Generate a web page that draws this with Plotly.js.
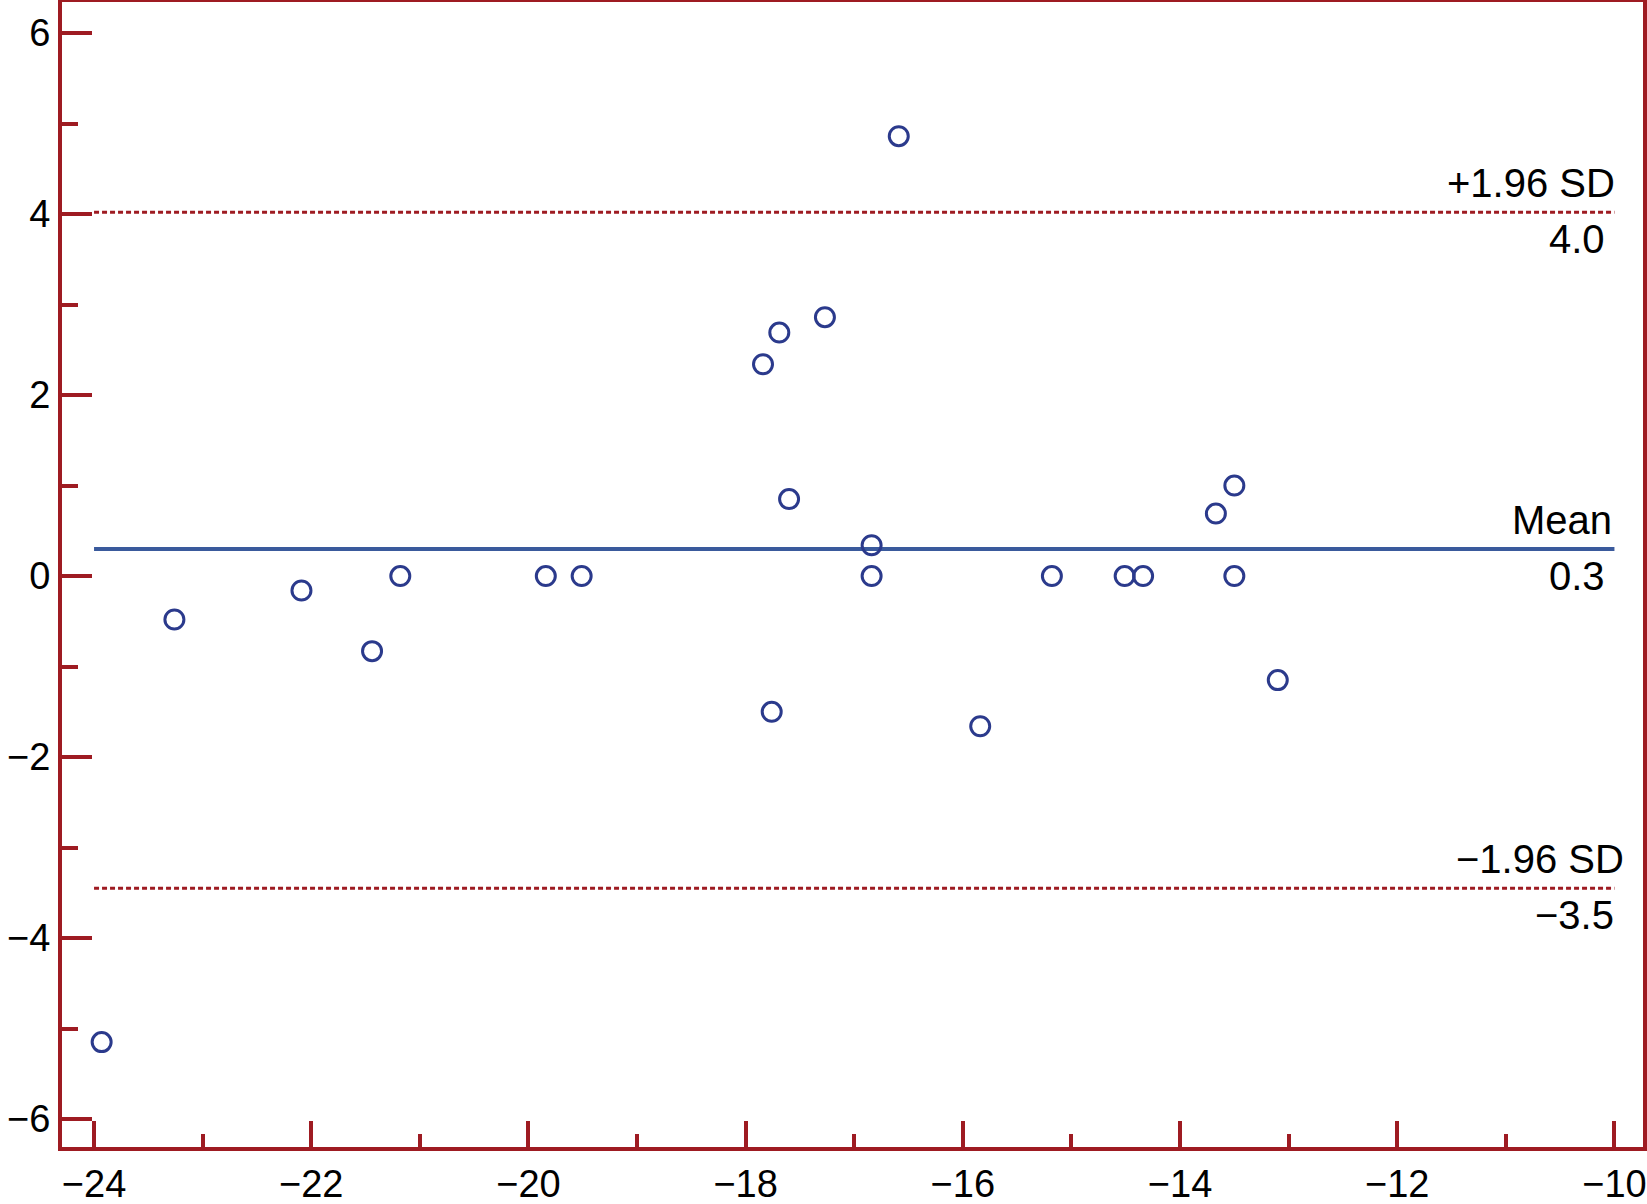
<!DOCTYPE html>
<html>
<head>
<meta charset="utf-8">
<script src="https://cdn.plot.ly/plotly-3.0.1.min.js"></script>
<style>
  html, body { margin: 0; padding: 0; background: #fff; }
  #chart { width: 1647px; height: 1204px; }
</style>
</head>
<body>
<div id="chart"></div>
<script>
// Bland-Altman style plot: mean of two measures vs difference

var meanVals = [-23.93, -23.26, -22.09, -21.44, -21.18, -19.84, -19.51,
                -17.84, -17.69, -17.27, -17.60, -17.76, -16.59, -16.84,
                -16.84, -15.84, -15.18, -14.51, -14.34, -13.67, -13.50,
                -13.50, -13.10];
var diffVals = [-5.15, -0.48, -0.16, -0.83, 0.0, 0.0, 0.0,
                2.34, 2.69, 2.86, 0.85, -1.50, 4.86, 0.34,
                0.0, -1.66, 0.0, 0.0, 0.0, 0.69, 1.0,
                0.0, -1.15];

var lineX = [-24, -10];          // reference lines span
var meanDiff = 0.3;
var upperLoA = 4.02;
var lowerLoA = -3.45;

var refNames = ['+1.96 SD', 'Mean', '\u22121.96 SD'];
var refLabels = ['4.0', '0.3', '\u22123.5'];

var red = '#9e1b22';
var blue = '#3a5a9c';
var dotBlue = '#2b3a8c';
var font = 'Liberation Sans, Arial, Helvetica, sans-serif';
var tickSize = 38;
var noteSize = 40;

var data = [
  {
    x: lineX, y: [upperLoA, upperLoA],
    mode: 'lines', type: 'scatter', hoverinfo: 'skip',
    line: {color: red, width: 3, dash: '5px,3px'}
  },
  {
    x: lineX, y: [lowerLoA, lowerLoA],
    mode: 'lines', type: 'scatter', hoverinfo: 'skip',
    line: {color: red, width: 3, dash: '5px,3px'}
  },
  {
    x: lineX, y: [meanDiff, meanDiff],
    mode: 'lines', type: 'scatter', hoverinfo: 'skip',
    line: {color: blue, width: 4}
  },
  {
    x: meanVals, y: diffVals,
    mode: 'markers', type: 'scatter',
    marker: {symbol: 'circle-open', size: 19, color: dotBlue, line: {width: 3, color: dotBlue}}
  }
];

var refY = [upperLoA, meanDiff, lowerLoA];
var annotations = [];
for (var i = 0; i < refY.length; i++) {
  annotations.push({
    x: lineX[1], y: refY[i], xref: 'x', yref: 'y',
    text: refNames[i], showarrow: false,
    xanchor: 'right', yanchor: 'bottom', yshift: 5,
    xshift: i === 2 ? 12 : (i === 0 ? 3 : 0),
    font: {family: font, size: noteSize, color: '#000'}
  });
  annotations.push({
    x: lineX[1], y: refY[i], xref: 'x', yref: 'y',
    text: refLabels[i], showarrow: false,
    xanchor: 'right', yanchor: 'top', yshift: -3,
    xshift: i === 1 ? -7 : (i === 0 ? -7 : 2),
    font: {family: font, size: noteSize, color: '#000'}
  });
}

var layout = {
  width: 1647,
  height: 1204,
  margin: {l: 62, r: 4, t: 2, b: 57},
  paper_bgcolor: '#fff',
  plot_bgcolor: '#fff',
  showlegend: false,
  font: {family: font, size: tickSize, color: '#000'},
  xaxis: {
    range: [-24.295, -9.737],
    tickmode: 'linear', tick0: -24, dtick: 2,
    ticks: 'inside', ticklen: 26, tickwidth: 4, tickcolor: red,
    minor: {ticks: 'inside', dtick: 1, ticklen: 13, tickwidth: 4, tickcolor: red, showgrid: false},
    showline: true, linecolor: red, linewidth: 4, mirror: true,
    showgrid: false, zeroline: false, automargin: false,
    tickfont: {family: font, size: tickSize, color: '#000'}
  },
  yaxis: {
    range: [-6.309, 6.343],
    tickmode: 'linear', tick0: -6, dtick: 2,
    ticks: 'inside', ticklen: 30, tickwidth: 4, tickcolor: red,
    minor: {ticks: 'inside', dtick: 1, ticklen: 16, tickwidth: 4, tickcolor: red, showgrid: false},
    showline: true, linecolor: red, linewidth: 4, mirror: true,
    showgrid: false, zeroline: false, automargin: false,
    tickfont: {family: font, size: tickSize, color: '#000'}
  },
  annotations: annotations
};

Plotly.newPlot('chart', data, layout, {displayModeBar: false, staticPlot: true});
</script>
</body>
</html>
